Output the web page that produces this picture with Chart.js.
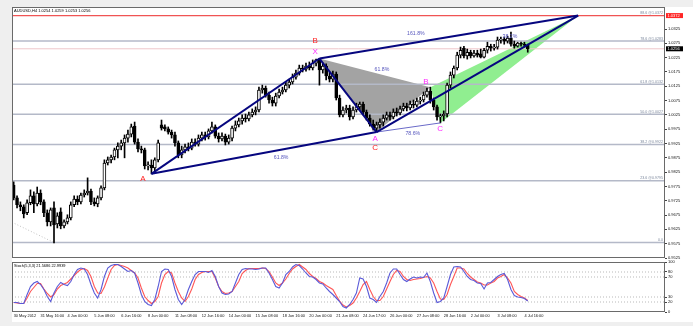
<!DOCTYPE html>
<html><head><meta charset="utf-8">
<script src="https://cdn.jsdelivr.net/npm/chart.js@4.4.1/dist/chart.umd.min.js"></script>
<style>
html,body{margin:0;padding:0;background:#efefef;width:693px;height:326px;overflow:hidden;}
#bg{position:absolute;left:12px;top:7px;width:681px;height:315px;background:#fff;}
#c1{position:absolute;left:0;top:0;}
#c2{position:absolute;left:0;top:258px;}
</style></head><body>
<div id="bg"></div>
<canvas id="c1" width="693" height="262"></canvas>
<canvas id="c2" width="693" height="68"></canvas>
<script>
// ---------- DATA ----------
const titleText = 'AUDUSD,H4 1.0254 1.0259 1.0253 1.0256';
const stochTitle = 'Stoch(5,3,3) 21.5686 22.9939';

const open = [0.9780,0.9735,0.9711,0.9704,0.9683,0.9718,0.9742,0.9714,0.9752,0.9721,
 0.9683,0.9651,0.9700,0.9644,0.9686,0.9637,0.9651,0.9665,0.9711,0.9731,
 0.9721,0.9745,0.9752,0.9759,0.9721,0.9714,0.9735,0.9770,0.9857,0.9868,
 0.9878,0.9903,0.9916,0.9927,0.9944,0.9958,0.9986,0.9930,0.9906,0.9903,
 0.9847,0.9850,0.9840,0.9868,0.9990,0.9983,0.9976,0.9965,0.9955,0.9927,
 0.9885,0.9903,0.9913,0.9909,0.9930,0.9923,0.9944,0.9955,0.9948,0.9969,
 0.9983,0.9951,0.9941,0.9951,0.9930,0.9944,0.9979,0.9990,1.0004,1.0014,
 1.0011,1.0025,1.0035,1.0042,1.0112,1.0119,1.0094,1.0077,1.0066,1.0091,
 1.0105,1.0112,1.0129,1.0140,1.0157,1.0171,1.0189,1.0185,1.0196,1.0189,
 1.0206,1.0217,1.0182,1.0196,1.0161,1.0150,1.0168,1.0084,1.0025,1.0042,
 1.0049,1.0018,1.0042,1.0053,1.0063,1.0035,1.0014,0.9993,0.9979,0.9990,
 1.0000,1.0014,1.0025,1.0018,1.0035,1.0032,1.0046,1.0056,1.0049,1.0063,
 1.0059,1.0073,1.0077,1.0094,1.0108,1.0077,1.0053,1.0018,1.0021,1.0028,
 1.0129,1.0164,1.0189,1.0234,1.0258,1.0231,1.0244,1.0231,1.0241,1.0238,
 1.0227,1.0251,1.0265,1.0258,1.0262,1.0286,1.0290,1.0283,1.0293,1.0272,
 1.0265,1.0276,1.0272,1.0269];
const high = [0.9791,0.9742,0.9721,0.9711,0.9728,0.9763,0.9756,0.9773,0.9763,0.9728,
 0.9693,0.9700,0.9721,0.9683,0.9700,0.9658,0.9676,0.9721,0.9742,0.9742,
 0.9752,0.9763,0.9805,0.9766,0.9735,0.9742,0.9777,0.9868,0.9878,0.9885,
 0.9909,0.9927,0.9937,0.9955,0.9972,0.9993,1.0000,0.9941,0.9916,0.9909,
 0.9861,0.9868,0.9875,0.9937,1.0007,0.9990,0.9983,0.9972,0.9965,0.9934,
 0.9916,0.9923,0.9927,0.9941,0.9941,0.9955,0.9965,0.9965,0.9976,1.0000,
 0.9990,0.9962,0.9962,0.9958,0.9955,0.9986,1.0004,1.0014,1.0025,1.0028,
 1.0035,1.0046,1.0053,1.0122,1.0129,1.0126,1.0105,1.0087,1.0101,1.0115,
 1.0122,1.0140,1.0150,1.0168,1.0182,1.0199,1.0199,1.0206,1.0210,1.0217,
 1.0220,1.0222,1.0206,1.0203,1.0175,1.0178,1.0175,1.0094,1.0053,1.0059,
 1.0059,1.0053,1.0066,1.0070,1.0070,1.0042,1.0025,1.0007,1.0000,1.0011,
 1.0025,1.0035,1.0035,1.0046,1.0049,1.0056,1.0066,1.0066,1.0073,1.0077,
 1.0084,1.0087,1.0105,1.0119,1.0122,1.0084,1.0059,1.0028,1.0039,1.0136,
 1.0175,1.0196,1.0244,1.0262,1.0265,1.0255,1.0251,1.0251,1.0251,1.0255,
 1.0258,1.0279,1.0272,1.0272,1.0297,1.0297,1.0297,1.0300,1.0314,1.0283,
 1.0279,1.0279,1.0279,1.0272];
const low = [0.9728,0.9700,0.9690,0.9665,0.9676,0.9711,0.9683,0.9707,0.9711,0.9669,
 0.9637,0.9637,0.9578,0.9630,0.9627,0.9630,0.9644,0.9658,0.9704,0.9711,
 0.9714,0.9738,0.9745,0.9711,0.9707,0.9704,0.9728,0.9763,0.9850,0.9857,
 0.9868,0.9875,0.9903,0.9875,0.9930,0.9948,0.9923,0.9896,0.9892,0.9836,
 0.9833,0.9819,0.9829,0.9861,0.9972,0.9969,0.9958,0.9944,0.9916,0.9875,
 0.9875,0.9892,0.9899,0.9903,0.9916,0.9916,0.9934,0.9937,0.9941,0.9962,
 0.9944,0.9930,0.9934,0.9920,0.9923,0.9934,0.9969,0.9983,0.9993,1.0000,
 1.0004,1.0018,1.0025,1.0035,1.0101,1.0087,1.0066,1.0056,1.0056,1.0084,
 1.0098,1.0105,1.0119,1.0133,1.0150,1.0164,1.0175,1.0178,1.0182,1.0182,
 1.0196,1.0129,1.0171,1.0147,1.0140,1.0140,1.0077,1.0018,1.0018,1.0032,
 1.0007,1.0011,1.0035,1.0042,1.0025,1.0007,0.9986,0.9972,0.9965,0.9979,
 0.9986,1.0007,1.0007,1.0011,1.0021,1.0025,1.0039,1.0039,1.0042,1.0049,
 1.0053,1.0063,1.0070,1.0087,1.0066,1.0042,1.0007,0.9997,1.0004,1.0018,
 1.0119,1.0154,1.0182,1.0224,1.0224,1.0220,1.0224,1.0227,1.0227,1.0224,
 1.0224,1.0241,1.0248,1.0251,1.0255,1.0276,1.0272,1.0276,1.0265,1.0258,
 1.0262,1.0265,1.0262,1.0244];
const close = [0.9735,0.9711,0.9704,0.9679,0.9718,0.9742,0.9714,0.9752,0.9721,0.9683,
 0.9651,0.9693,0.9641,0.9672,0.9637,0.9651,0.9665,0.9711,0.9731,0.9721,
 0.9745,0.9752,0.9759,0.9721,0.9714,0.9735,0.9770,0.9857,0.9868,0.9878,
 0.9903,0.9916,0.9927,0.9944,0.9958,0.9983,0.9930,0.9906,0.9903,0.9847,
 0.9850,0.9840,0.9868,0.9927,0.9979,0.9976,0.9965,0.9955,0.9927,0.9885,
 0.9903,0.9913,0.9909,0.9930,0.9923,0.9944,0.9955,0.9948,0.9969,0.9983,
 0.9951,0.9941,0.9951,0.9930,0.9944,0.9979,0.9990,1.0004,1.0014,1.0011,
 1.0025,1.0035,1.0042,1.0112,1.0119,1.0094,1.0077,1.0066,1.0091,1.0105,
 1.0112,1.0129,1.0140,1.0157,1.0171,1.0189,1.0185,1.0196,1.0189,1.0206,
 1.0217,1.0182,1.0196,1.0161,1.0150,1.0168,1.0084,1.0025,1.0042,1.0049,
 1.0018,1.0042,1.0053,1.0063,1.0035,1.0014,0.9993,0.9979,0.9990,1.0000,
 1.0014,1.0025,1.0018,1.0035,1.0032,1.0046,1.0056,1.0049,1.0063,1.0059,
 1.0073,1.0077,1.0094,1.0108,1.0077,1.0053,1.0018,1.0021,1.0028,1.0129,
 1.0164,1.0189,1.0234,1.0251,1.0231,1.0244,1.0231,1.0241,1.0234,1.0227,
 1.0251,1.0265,1.0258,1.0262,1.0286,1.0290,1.0283,1.0293,1.0272,1.0265,
 1.0276,1.0272,1.0269,1.0256];

const stochK = [19,19,17,17,35,51,58,61,55,45,
 31,21,38,51,59,55,53,61,75,85,
 88,86,75,55,38,28,45,71,88,93,
 95,95,91,86,81,83,78,58,35,21,
 15,13,25,51,81,86,85,71,45,25,
 15,25,45,61,75,81,81,81,79,83,
 71,51,38,35,36,41,58,75,85,87,
 86,86,85,86,88,88,78,65,51,48,
 58,75,81,90,95,93,86,78,71,70,
 65,58,56,48,41,35,28,21,11,8,
 15,25,38,68,66,51,28,25,19,31,
 41,58,78,86,86,75,65,61,66,70,
 68,70,69,78,61,38,19,21,28,51,
 75,90,91,90,81,71,65,63,58,57,
 46,58,59,65,71,75,77,65,45,33,
 30,29,27,22];
const stochD = [19,18,17,17,28,41,49,57,57,46,
 37,30,35,46,53,56,59,66,73,80,
 85,87,83,71,51,38,37,50,68,85,
 93,95,93,91,88,83,78,68,48,31,
 23,17,21,31,58,75,81,78,58,41,
 28,21,31,46,65,75,79,81,81,81,
 68,51,41,37,38,41,51,61,77,83,
 87,87,87,87,88,87,81,70,58,53,
 58,66,77,86,91,95,90,85,77,71,
 67,61,58,53,49,45,33,22,14,10,
 13,18,28,41,55,61,45,31,23,23,
 31,46,61,75,83,81,71,65,63,65,
 66,67,69,71,68,58,41,26,25,35,
 55,71,88,88,86,77,70,65,60,58,
 54,54,58,61,68,71,75,68,58,41,
 35,31,28,23];

const yTicks = [1.0325,1.0275,1.0225,1.0175,1.0125,1.0075,1.0025,0.9975,0.9925,0.9875,0.9825,0.9775,0.9725,0.9675,0.9625,0.9575,0.9525];
const stochTicks = [100,80,70,30,20,0];
const stochLevels = [80,70,30,20];
const xLabels = ['30 May 2012','31 May 16:00','4 Jun 00:00','5 Jun 08:00','6 Jun 16:00','8 Jun 00:00','11 Jun 08:00','12 Jun 16:00','14 Jun 00:00','15 Jun 08:00','18 Jun 16:00','20 Jun 00:00','21 Jun 08:00','24 Jun 17:00','26 Jun 00:00','27 Jun 08:00','28 Jun 16:00','2 Jul 00:00','3 Jul 08:00','4 Jul 16:00'];
const xLabelStep = 8;

const fibLevels = [1.0372,1.0283,1.0132,1.0027,0.9922,0.9795,0.9579];
const fibNames = ['88.6 @1.0372','78.6 @1.0283','61.8 @1.0132','50.0 @1.0027','38.2 @0.9922','23.6 @0.9795','0.0'];
const fibTrend = [{x:-0.5,y:0.9650},{x:12,y:0.9579}];
const bidPrice = 1.0256;

// harmonic pattern points (bar index, price)
const ptA1 = {x:41, y:0.9819};
const ptX  = {x:91, y:1.0222};
const ptA2 = {x:108, y:0.9965};
const ptB2 = {x:124, y:1.0122};
const ptC2 = {x:127, y:0.9997};
const ptD  = {x:168, y:1.0372};

const ratioText = ['161.8%','61.8%','61.8%','78.6%','38.2%'];
const ratioX = [119.7,109.6,79.6,118.8,147.7];
const ratioY = [1.0308,1.0185,0.9875,0.9959,1.0298];

const letterText = ['A','B','X','A','C','B','C'];
const letterX = [38.5,89.7,89.7,107.6,107.6,122.7,126.9];
const letterY = [0.9802,1.0283,1.0245,0.9941,0.9910,1.0140,0.9976];

// ---------- SETUP ----------
const FONT = '"Liberation Sans", Arial, sans-serif';
Chart.defaults.font.family = FONT;
Chart.defaults.font.size = 4;
Chart.defaults.color = '#000';

const xMin = -0.5, xMax = 193.85;
const yMin = 0.9525, yMax = 1.0402;

const letterColors = ['#ff1e1e','#ff1e1e','#ff2cff','#ff2cff','#ff1e1e','#ff2cff','#ff2cff'];
const idx = close.map((_, i) => i);
const candleFill = close.map((c, i) => c >= open[i] ? '#ffffff' : '#000000');
const hline = v => [{x:xMin, y:v}, {x:xMax, y:v}];
const lineDs = (data, color, width, order, extra) => Object.assign({
  type:'line', data, borderColor:color, borderWidth:width, pointRadius:0, fill:false, tension:0, order
}, extra || {});

const navySegments = [[ptA1, ptX], [ptA1, ptA2], [ptX, ptD], [ptX, ptA2], [ptA2, ptD]];

const frame = {
  id:'frame',
  afterDraw(chart) {
    const {ctx, chartArea:a} = chart;
    ctx.save();
    ctx.strokeStyle = '#6a6a6a'; ctx.lineWidth = 1;
    ctx.strokeRect(a.left + 0.5, a.top + 0.5, a.width - 1, a.height - 1);
    ctx.restore();
  }
};

const overlay = {
  id:'overlay',
  afterDatasetsDraw(chart) {
    const {ctx, chartArea:a, scales:{x, y}} = chart;
    ctx.save();
    // fib labels
    ctx.font = '3.6px ' + FONT; ctx.fillStyle = '#7b879c';
    ctx.textAlign = 'right'; ctx.textBaseline = 'bottom';
    fibLevels.forEach((v, k) => ctx.fillText(fibNames[k], a.right - 2, y.getPixelForValue(v) - 0.6));
    // ratio labels
    ctx.font = '5.2px ' + FONT; ctx.fillStyle = '#5656bd';
    ctx.textAlign = 'center'; ctx.textBaseline = 'middle';
    ratioText.forEach((t, k) => ctx.fillText(t, x.getPixelForValue(ratioX[k]), y.getPixelForValue(ratioY[k])));
    // letters
    ctx.font = '8px ' + FONT;
    letterText.forEach((t, k) => {
      ctx.fillStyle = letterColors[k];
      ctx.fillText(t, x.getPixelForValue(letterX[k]), y.getPixelForValue(letterY[k]));
    });
    // title
    ctx.font = '4px ' + FONT; ctx.fillStyle = '#000';
    ctx.textAlign = 'left';
    ctx.fillText(titleText, a.left + 2, a.top + 3.6);
    ctx.restore();
  },
  afterDraw(chart) {
    const {ctx, chartArea:a, scales:{y}} = chart;
    ctx.save();
    const box = (v, bg) => {
      const py = y.getPixelForValue(v);
      ctx.fillStyle = bg; ctx.fillRect(a.right + 1, py - 2.5, 17, 5);
      ctx.fillStyle = '#fff'; ctx.font = '4px ' + FONT;
      ctx.textAlign = 'left'; ctx.textBaseline = 'middle';
      ctx.fillText(v.toFixed(4), a.right + 2.5, py + 0.2);
    };
    box(fibLevels[0], '#ff2626');
    box(bidPrice, '#000000');
    ctx.restore();
  }
};

new Chart(document.getElementById('c1'), {
  type:'bar',
  data:{ datasets:[
    lineDs([ptX, ptA2, ptB2, ptX], 'rgba(0,0,0,0)', 0, 40, {fill:'shape', backgroundColor:'#a3a3a3'}),
    lineDs([ptB2, ptC2, ptD, ptB2], 'rgba(0,0,0,0)', 0, 40, {fill:'shape', backgroundColor:'#90ee90'}),
    ...fibLevels.map((v, k) => lineDs(hline(v), k === 0 ? '#f05454' : '#b4b9c8', k === 0 ? 1.2 : 1.5, 30)),
    lineDs(hline(bidPrice), '#efc6ca', 1, 30),
    lineDs(fibTrend, '#c2c2c2', 1, 30, {borderDash:[1, 2]}),
    {type:'bar', data: idx.map(i => ({x:i, y:[low[i], high[i]]})), backgroundColor:'#000', barThickness:1, grouped:false, order:12},
    {type:'bar', data: idx.map(i => ({x:i, y:[open[i], close[i]]})), backgroundColor:candleFill, borderColor:'#000', borderWidth:1, borderSkipped:false, barThickness:3, minBarLength:1, grouped:false, order:11},
    ...navySegments.map(s => lineDs(s, '#06067f', 2, 2)),
    lineDs([ptA2, ptC2], '#6a6ac8', 1, 3)
  ]},
  options:{
    responsive:false, maintainAspectRatio:false, animation:false, events:[],
    layout:{ padding:{left:12, top:7, right:0, bottom:4} },
    plugins:{ legend:{display:false}, tooltip:{enabled:false} },
    scales:{
      x:{ type:'linear', min:xMin, max:xMax, display:false, offset:false },
      y:{ type:'linear', position:'right', min:yMin, max:yMax,
          afterBuildTicks: s => { s.ticks = yTicks.map(v => ({value:v})); },
          afterFit: s => { s.width = 28; },
          ticks:{ autoSkip:false, padding:1, font:{size:4}, color:'#111', callback: v => Number(v).toFixed(4) },
          grid:{ drawOnChartArea:false, drawTicks:true, tickLength:2, color:'#444' },
          border:{ display:false } }
    }
  },
  plugins:[frame, overlay]
});

const stochOverlay = {
  id:'stochOverlay',
  afterDatasetsDraw(chart) {
    const {ctx, chartArea:a} = chart;
    ctx.save();
    ctx.font = '3.9px ' + FONT; ctx.fillStyle = '#000';
    ctx.textAlign = 'left'; ctx.textBaseline = 'middle';
    ctx.fillText(stochTitle, a.left + 2, a.top + 3.6);
    ctx.restore();
  }
};

new Chart(document.getElementById('c2'), {
  type:'line',
  data:{ datasets:[
    ...stochLevels.map(v => lineDs(hline(v), '#b9b9b9', 1, 5, {borderDash:[1, 2]})),
    lineDs(stochD.map((v, i) => ({x:i, y:v})), '#ff5656', 1.1, 2),
    lineDs(stochK.map((v, i) => ({x:i, y:v})), '#5a5ad8', 1.1, 1)
  ]},
  options:{
    responsive:false, maintainAspectRatio:false, animation:false, events:[],
    layout:{ padding:{left:12, top:4, right:0, bottom:4} },
    plugins:{ legend:{display:false}, tooltip:{enabled:false} },
    scales:{
      x:{ type:'linear', min:xMin, max:xMax, offset:false,
          afterBuildTicks: s => { s.ticks = xLabels.map((_, k) => ({value:k * xLabelStep})); },
          afterFit: s => { s.height = 10; },
          ticks:{ autoSkip:false, maxRotation:0, minRotation:0, align:'start', padding:2, font:{size:3.9}, color:'#111',
                  callback: (v, k) => xLabels[k] },
          grid:{ drawOnChartArea:false, drawTicks:false },
          border:{ display:false } },
      y:{ type:'linear', position:'right', min:0, max:100,
          afterBuildTicks: s => { s.ticks = stochTicks.map(v => ({value:v})); },
          afterFit: s => { s.width = 28; },
          ticks:{ autoSkip:false, padding:1, font:{size:4}, color:'#111' },
          grid:{ drawOnChartArea:false, drawTicks:true, tickLength:2, color:'#444' },
          border:{ display:false } }
    }
  },
  plugins:[frame, stochOverlay]
});
</script>
</body></html>
